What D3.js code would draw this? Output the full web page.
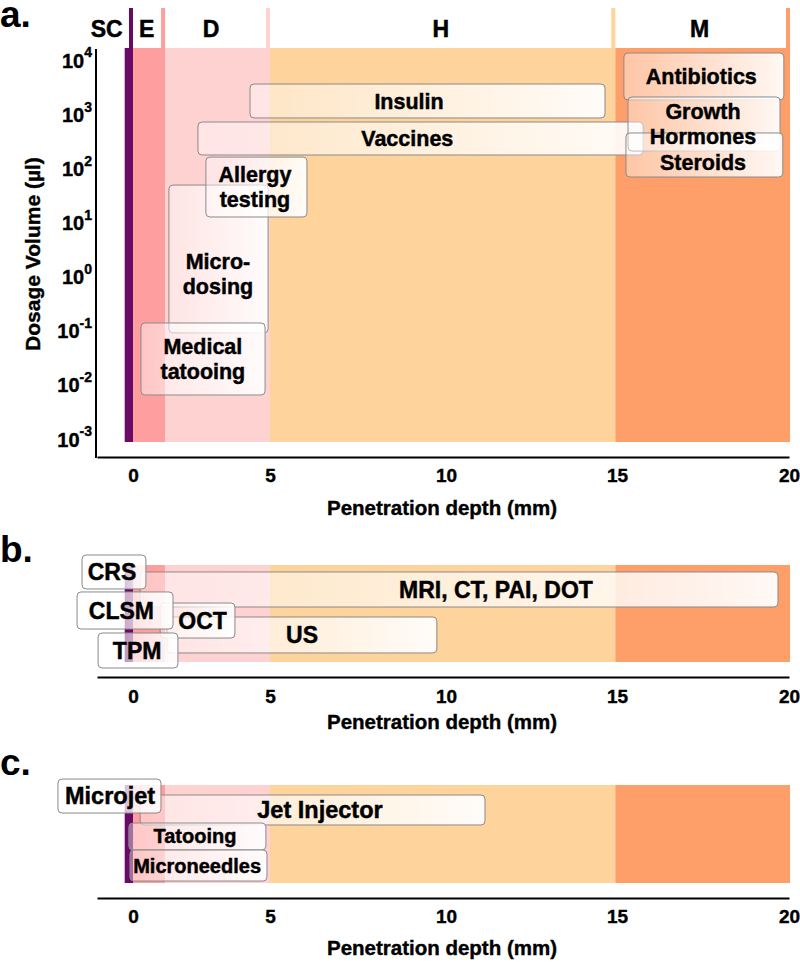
<!DOCTYPE html>
<html><head><meta charset="utf-8">
<script src="https://cdn.jsdelivr.net/npm/d3@7"></script>
<style>
body{margin:0;background:#fff}
svg{display:block}
text{font-family:"Liberation Sans",Arial,sans-serif;font-weight:bold;fill:#000}
</style>
</head><body><svg id="chart" width="800" height="962"></svg>
<script>
// ---------- data ----------
const layerNames   = ["SC","E","D","H","M"];
const layerStart   = [-0.3, 0, 1.17, 5, 14.95];
const layerEnd     = [0, 1.17, 5, 14.95, 20.03];
const layerLabelAt = [-0.95, 0.5, 2.85, 9.85, 17.4];
const layerColors  = ["#6a0a68","#ff9e9e","#ffd2d2","#fed39c","#fe9f69"];

const xTicks = [0,5,10,15,20];
const yTickExponents = [-3,-2,-1,0,1,2,3,4];

// panel a: therapeutic applications (depth in mm, volume in µl)
const aLabels   = ["Insulin","Vaccines","Micro-|dosing","Allergy|testing","Medical|tatooing","Antibiotics","Growth|Hormones","Steroids"];
const aDepthMin = [4.27, 2.37, 1.31, 2.66, 0.29, 15.2, 15.32, 15.26];
const aDepthMax = [14.65, 15.76, 4.93, 6.05, 4.82, 19.85, 19.74, 19.82];
const aLabelAt  = [8.95, 8.9, 3.1, 4.45, 2.55, 17.45, 17.5, 17.5];
const aVolLow   = [850, 176, 0.091, 12.6, 0.0065, 1824, 208, 69];
const aVolHigh  = [3600, 716, 49, 161, 0.139, 13460, 2075, 449];
// label anchor volume (null = middle of the box)
const aLabelVol = [null, null, 1.1, null, null, null, null, 130];

// panel b: imaging modalities (depth in mm, lane position 0-100)
const bLabels   = ["MRI, CT, PAI, DOT","US","OCT","CRS","CLSM","TPM"];
const bDepthMin = [0.26, 1.24, 0.99, -1.84, -2.02, -1.26];
const bDepthMax = [19.68, 9.74, 3.72, 0.47, 1.46, 1.64];
const bLabelAt  = [11.46, 5.91, 2.54, -0.76, -0.42, 0.15];
const bLaneTop  = [7.2, 53.6, 39.2, -10.3, 27.8, 70.1];
const bLaneBot  = [43.3, 90.7, 75.3, 24.7, 66, 106.2];

// panel c: delivery devices
const cLabels   = ["Jet Injector","Microjet","Tatooing","Microneedles"];
const cDepthMin = [0.26, -2.71, -0.15, -0.11];
const cDepthMax = [11.14, 1.02, 4.85, 4.89];
const cLabelAt  = [6.42, -0.83, 2.26, 2.34];
const cLaneTop  = [10.2, -6.1, 38.8, 66.3];
const cLaneBot  = [40.8, 28.6, 66.3, 98];
const cFontSize = [23.5, 23.5, 20, 20];

// ---------- drawing ----------
const svg = d3.select("#chart");
const defs = svg.append("defs");
const grad = defs.append("linearGradient").attr("id","boxFill")
  .attr("x1","0").attr("x2","1").attr("y1","0").attr("y2","0");
grad.append("stop").attr("offset","0").attr("stop-color","#fff").attr("stop-opacity",0.4);
grad.append("stop").attr("offset","1").attr("stop-color","#fff").attr("stop-opacity",0.93);

// schematic (piecewise) depth scale
const x = d3.scaleLinear().domain([-1.3,0,5,10,15,20]).range([97,133,270,446,617,789]);

function boldify(sel, w){
  return sel.attr("stroke","#000").attr("stroke-width", w).attr("paint-order","stroke");
}

function drawLayers(g, top, bottom, header){
  layerNames.forEach((n,i)=>{
    g.append("rect")
      .attr("x", x(layerStart[i])).attr("y", top)
      .attr("width", x(layerEnd[i]) - x(layerStart[i])).attr("height", bottom - top)
      .attr("fill", layerColors[i]);
    if(header){
      g.append("rect")
        .attr("x", x(layerEnd[i]) - 4).attr("y", 8)
        .attr("width", 4).attr("height", top - 8)
        .attr("fill", layerColors[i]);
      boldify(g.append("text").attr("x", x(layerLabelAt[i])).attr("y", 37)
        .attr("text-anchor","middle").attr("font-size", 23).text(n), 0.5);
    }
  });
}

function drawBoxes(g, items){
  items.forEach(d=>{
    g.append("rect")
      .attr("x", x(d.x0)).attr("y", d.top)
      .attr("width", x(d.x1) - x(d.x0)).attr("height", d.bot - d.top)
      .attr("rx", 4).attr("ry", 4)
      .attr("fill","url(#boxFill)").attr("stroke","#8a8a8a").attr("stroke-width",1);
  });
  items.forEach(d=>{
    const lines = d.label.split("|");
    const lh = d.fs * 1.15;
    const cy = d.cy != null ? d.cy : (d.top + d.bot) / 2;
    const t = g.append("text").attr("text-anchor","middle").attr("font-size", d.fs);
    boldify(t, 0.45);
    lines.forEach((ln,i)=>{
      t.append("tspan").attr("x", x(d.lx))
        .attr("y", cy + (i - (lines.length-1)/2) * lh + 0.35 * d.fs)
        .text(ln);
    });
  });
}

function drawXAxis(axisY, padding, titleY){
  const ax = svg.append("g").attr("transform", `translate(0,${axisY})`)
    .call(d3.axisBottom(x).tickValues(xTicks).tickSize(0).tickPadding(padding).tickFormat(d3.format("d")));
  ax.select(".domain").attr("stroke","#000").attr("stroke-width",2);
  boldify(ax.selectAll(".tick text").attr("font-size",19)
    .attr("font-family","'Liberation Sans',Arial,sans-serif").attr("font-weight","bold").attr("fill","#000"), 0.4);
  boldify(svg.append("text").attr("x", 442).attr("y", titleY).attr("text-anchor","middle")
    .attr("font-size", 20.5).text("Penetration depth (mm)"), 0.4);
}

// ----- panel a -----
const yA = d3.scaleLog().domain([1e-3, 1e4]).range([439, 60]);
const gA = svg.append("g");
drawLayers(gA, 48, 442, true);
drawBoxes(gA, aLabels.map((l,i)=>({label:l, x0:aDepthMin[i], x1:aDepthMax[i], lx:aLabelAt[i],
  top:yA(aVolHigh[i]), bot:yA(aVolLow[i]), cy: aLabelVol[i] == null ? null : yA(aLabelVol[i]), fs:21.5})));

// y axis
const yAx = svg.append("g").attr("transform","translate(96,0)")
  .call(d3.axisLeft(yA).tickValues(yTickExponents.map(e=>Math.pow(10,e))).tickSize(0).tickPadding(4));
yAx.select(".domain").remove();
yAx.selectAll(".tick text").each(function(d){
  const t = d3.select(this).text(null)
    .attr("font-family","'Liberation Sans',Arial,sans-serif").attr("font-weight","bold")
    .attr("fill","#000").attr("font-size",20).attr("dy","0.35em").attr("text-anchor","end");
  boldify(t, 0.4);
  t.append("tspan").text("10");
  t.append("tspan").attr("font-size",14).attr("dy","-0.72em").text(String(Math.round(Math.log10(d))));
});
svg.append("line").attr("x1",96).attr("x2",96).attr("y1",49).attr("y2",458)
  .attr("stroke","#000").attr("stroke-width",2);
drawXAxis(457, 12, 515);
boldify(svg.append("text").attr("transform","translate(40,254) rotate(-90)")
  .attr("text-anchor","middle").attr("font-size",21).text("Dosage Volume (µl)"), 0.4);
svg.append("text").attr("x",0).attr("y",27).attr("font-size",37).text("a.");

// ----- panel b -----
const yB = d3.scaleLinear().domain([0,100]).range([565,662]);
const gB = svg.append("g");
drawLayers(gB, yB(0), yB(100), false);
drawBoxes(gB, bLabels.map((l,i)=>({label:l, x0:bDepthMin[i], x1:bDepthMax[i], lx:bLabelAt[i],
  top:yB(bLaneTop[i]), bot:yB(bLaneBot[i]), fs:23})));
drawXAxis(677, 13, 729);
svg.append("text").attr("x",0).attr("y",562).attr("font-size",37).text("b.");

// ----- panel c -----
const yC = d3.scaleLinear().domain([0,100]).range([785,883]);
const gC = svg.append("g");
drawLayers(gC, yC(0), yC(100), false);
drawBoxes(gC, cLabels.map((l,i)=>({label:l, x0:cDepthMin[i], x1:cDepthMax[i], lx:cLabelAt[i],
  top:yC(cLaneTop[i]), bot:yC(cLaneBot[i]), fs:cFontSize[i]})));
drawXAxis(898, 12, 955);
svg.append("text").attr("x",0).attr("y",775).attr("font-size",37).text("c.");
</script>
</body></html>
